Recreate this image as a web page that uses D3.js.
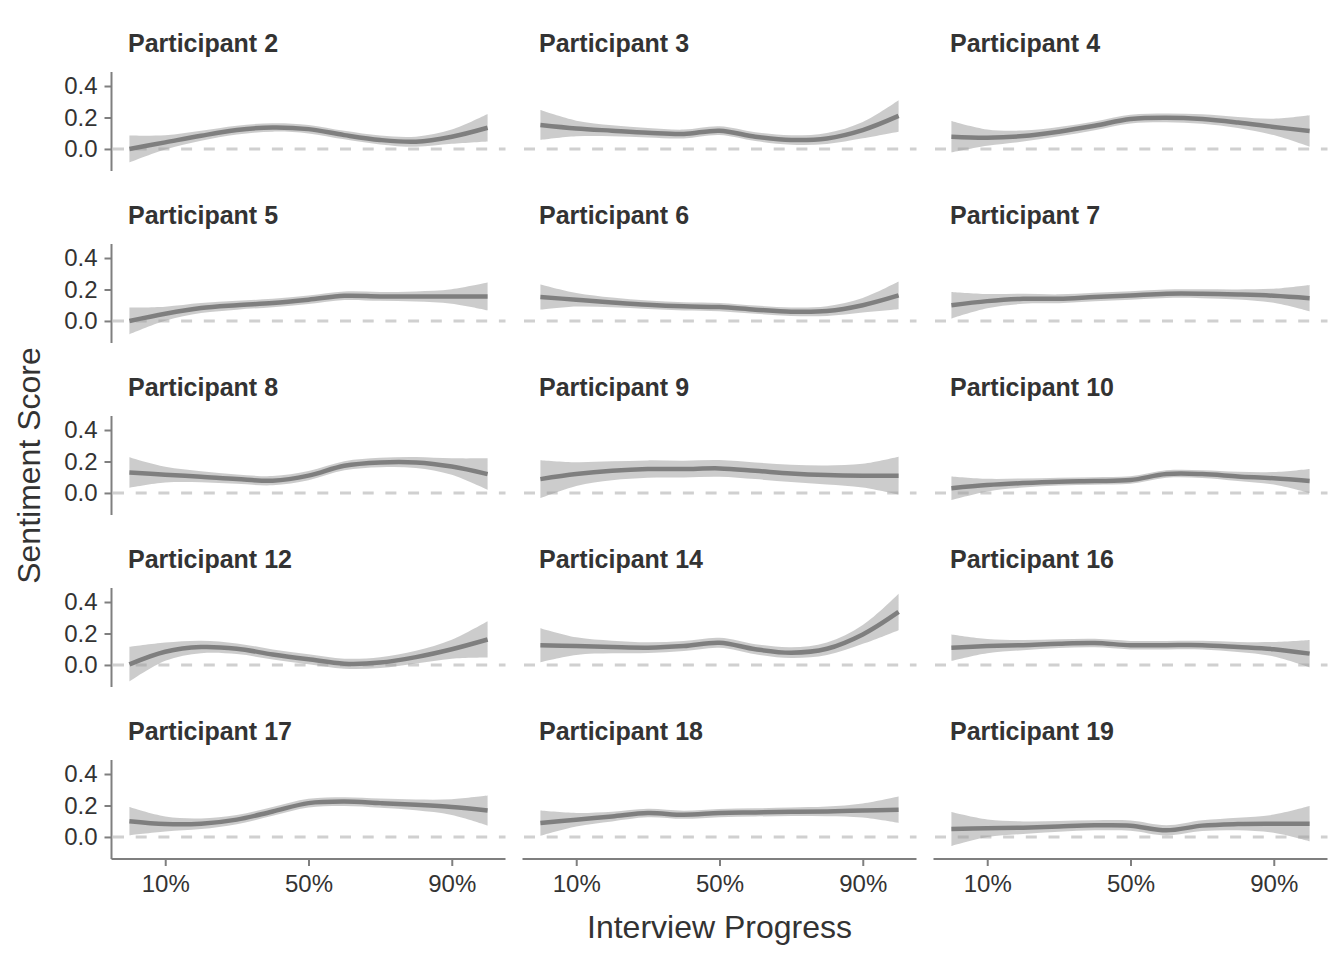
<!DOCTYPE html>
<html>
<head>
<meta charset="utf-8">
<script src="https://cdn.jsdelivr.net/npm/d3@7"></script>
<style>
  html, body { margin: 0; padding: 0; background: #ffffff; }
  svg { display: block; font-family: "Liberation Sans", Arial, Helvetica, sans-serif; }
</style>
</head>
<body>
<svg id="chart" width="1344" height="960"></svg>
<script>
// ---- data ----
const progress = [0, 0.1, 0.2, 0.3, 0.4, 0.5, 0.6, 0.7, 0.8, 0.9, 1.0];
const participants = ["Participant 2","Participant 3","Participant 4","Participant 5","Participant 6","Participant 7",
  "Participant 8","Participant 9","Participant 10","Participant 12","Participant 14","Participant 16",
  "Participant 17","Participant 18","Participant 19"];
const xTicks = [0.1, 0.5, 0.9];
const xTickLabels = ["10%", "50%", "90%"];
const yTicks = [0.0, 0.2, 0.4];
const yTickLabels = ["0.0", "0.2", "0.4"];

const fitP2  = [0.000,0.042,0.084,0.120,0.137,0.126,0.088,0.057,0.046,0.078,0.135];
const fitP3  = [0.152,0.130,0.116,0.103,0.095,0.116,0.078,0.057,0.067,0.120,0.210];
const fitP4  = [0.078,0.072,0.082,0.110,0.147,0.190,0.198,0.190,0.168,0.140,0.114];
const fitP5  = [0.000,0.046,0.082,0.100,0.114,0.135,0.160,0.156,0.156,0.156,0.156];
const fitP6  = [0.152,0.135,0.118,0.103,0.093,0.088,0.072,0.059,0.063,0.100,0.162];
const fitP7  = [0.100,0.126,0.141,0.141,0.152,0.162,0.173,0.173,0.168,0.160,0.145];
const fitP8  = [0.130,0.116,0.103,0.088,0.078,0.110,0.173,0.194,0.194,0.168,0.120];
const fitP9  = [0.088,0.120,0.141,0.152,0.152,0.156,0.141,0.124,0.114,0.110,0.110];
const fitP10 = [0.030,0.050,0.063,0.072,0.076,0.082,0.120,0.120,0.105,0.093,0.076];
const fitP12 = [0.004,0.084,0.114,0.103,0.067,0.036,0.008,0.015,0.050,0.100,0.162];
const fitP14 = [0.126,0.120,0.114,0.110,0.120,0.141,0.100,0.078,0.103,0.194,0.337];
const fitP16 = [0.110,0.120,0.126,0.135,0.139,0.126,0.126,0.126,0.114,0.100,0.072];
const fitP17 = [0.100,0.082,0.084,0.110,0.162,0.215,0.225,0.215,0.204,0.190,0.168];
const fitP18 = [0.088,0.110,0.130,0.152,0.141,0.152,0.156,0.160,0.162,0.168,0.173];
const fitP19 = [0.050,0.055,0.059,0.067,0.074,0.072,0.042,0.072,0.082,0.084,0.084];

const bandP2  = [0.085,0.045,0.032,0.028,0.027,0.027,0.027,0.028,0.032,0.045,0.087];
const bandP3  = [0.095,0.050,0.035,0.030,0.028,0.028,0.028,0.030,0.035,0.052,0.100];
const bandP4  = [0.100,0.052,0.035,0.030,0.028,0.028,0.028,0.030,0.035,0.052,0.100];
const bandP5  = [0.085,0.045,0.032,0.028,0.027,0.027,0.027,0.028,0.032,0.046,0.088];
const bandP6  = [0.080,0.043,0.031,0.027,0.026,0.026,0.026,0.027,0.031,0.046,0.088];
const bandP7  = [0.084,0.045,0.032,0.028,0.027,0.027,0.027,0.028,0.032,0.045,0.084];
const bandP8  = [0.097,0.050,0.035,0.030,0.029,0.029,0.029,0.030,0.035,0.052,0.100];
const bandP9  = [0.120,0.075,0.060,0.055,0.053,0.053,0.053,0.055,0.060,0.075,0.120];
const bandP10 = [0.075,0.040,0.029,0.025,0.024,0.024,0.024,0.025,0.029,0.040,0.077];
const bandP12 = [0.110,0.058,0.040,0.034,0.032,0.032,0.032,0.034,0.040,0.060,0.115];
const bandP14 = [0.108,0.056,0.040,0.034,0.032,0.032,0.032,0.034,0.040,0.060,0.116];
const bandP16 = [0.084,0.045,0.032,0.028,0.027,0.027,0.027,0.028,0.032,0.046,0.087];
const bandP17 = [0.090,0.048,0.034,0.029,0.028,0.028,0.028,0.029,0.034,0.050,0.095];
const bandP18 = [0.080,0.043,0.031,0.027,0.026,0.026,0.026,0.027,0.031,0.045,0.084];
const bandP19 = [0.108,0.056,0.040,0.034,0.032,0.032,0.032,0.034,0.040,0.058,0.112];

const fits  = [fitP2,fitP3,fitP4,fitP5,fitP6,fitP7,fitP8,fitP9,fitP10,fitP12,fitP14,fitP16,fitP17,fitP18,fitP19];
const bands = [bandP2,bandP3,bandP4,bandP5,bandP6,bandP7,bandP8,bandP9,bandP10,bandP12,bandP14,bandP16,bandP17,bandP18,bandP19];

// ---- layout ----
const nCols = 3, nRows = 5;
const panelLeft0 = 111.5, panelW = 394, colStep = 411;
const panelTop0 = 72, panelH = 99, rowStep = 172;
const textCol = "#333333", axisCol = "#7f7f7f";

const svg = d3.select("#chart");

const x = d3.scaleLinear().domain([-0.05, 1.05]).range([0, panelW]);
const y = d3.scaleLinear().domain([-0.14, 0.489]).range([panelH, 0]);

const area = d3.area()
  .x(d => x(d.p)).y0(d => y(d.f - d.b)).y1(d => y(d.f + d.b))
  .curve(d3.curveCatmullRom.alpha(0.5));
const line = d3.line()
  .x(d => x(d.p)).y(d => y(d.f))
  .curve(d3.curveCatmullRom.alpha(0.5));

participants.forEach((name, i) => {
  const col = i % nCols, row = Math.floor(i / nCols);
  const g = svg.append("g")
    .attr("transform", `translate(${panelLeft0 + col * colStep},${panelTop0 + row * rowStep})`);

  const pts = progress.map((p, k) => ({ p: p, f: fits[i][k], b: bands[i][k] }));

  // zero reference line
  g.append("line")
    .attr("x1", 0).attr("x2", panelW)
    .attr("y1", y(0)).attr("y2", y(0))
    .attr("stroke", "#d0d0d0").attr("stroke-width", 3)
    .attr("stroke-dasharray", "11,11.7")
    .attr("stroke-dashoffset", -1.5);

  g.append("path").datum(pts)
    .attr("d", area)
    .attr("fill", "#999999")
    .attr("fill-opacity", 0.5);

  g.append("path").datum(pts)
    .attr("d", line)
    .attr("fill", "none")
    .attr("stroke", "#7f7f7f")
    .attr("stroke-width", 4.5);

  // strip title
  g.append("text")
    .attr("x", 16.5).attr("y", -20)
    .attr("font-size", 25).attr("font-weight", "bold")
    .attr("fill", textCol)
    .text(name);

  if (col === 0) {
    const ay = g.append("g").call(
      d3.axisLeft(y).tickValues(yTicks).tickFormat((d, j) => yTickLabels[j]).tickSize(7).tickPadding(7)
    );
    ay.select(".domain").attr("stroke", axisCol).attr("stroke-width", 2)
      .attr("d", `M0,0V${panelH}`);
    ay.selectAll(".tick line").attr("stroke", axisCol).attr("stroke-width", 2);
    ay.selectAll(".tick text").attr("fill", textCol).attr("font-size", 24)
      .attr("font-family", "'Liberation Sans', Arial, sans-serif");
  }
  if (row === nRows - 1) {
    const ax = g.append("g").attr("transform", `translate(0,${panelH})`).call(
      d3.axisBottom(x).tickValues(xTicks).tickFormat((d, j) => xTickLabels[j]).tickSize(7).tickPadding(9)
    );
    ax.select(".domain").attr("stroke", axisCol).attr("stroke-width", 2)
      .attr("d", `M0,0H${panelW}`);
    ax.selectAll(".tick line").attr("stroke", axisCol).attr("stroke-width", 2);
    ax.selectAll(".tick text").attr("fill", textCol).attr("font-size", 24)
      .attr("font-family", "'Liberation Sans', Arial, sans-serif");
  }
});

// axis titles
const plotLeft = panelLeft0, plotRight = panelLeft0 + 2 * colStep + panelW;
const plotTop = panelTop0, plotBottom = panelTop0 + (nRows - 1) * rowStep + panelH;

svg.append("text")
  .attr("x", (plotLeft + plotRight) / 2).attr("y", 938)
  .attr("text-anchor", "middle")
  .attr("font-size", 32).attr("fill", textCol)
  .text("Interview Progress");

svg.append("text")
  .attr("transform", `translate(40,${(plotTop + plotBottom) / 2}) rotate(-90)`)
  .attr("text-anchor", "middle")
  .attr("font-size", 32).attr("fill", textCol)
  .text("Sentiment Score");
</script>
</body>
</html>
